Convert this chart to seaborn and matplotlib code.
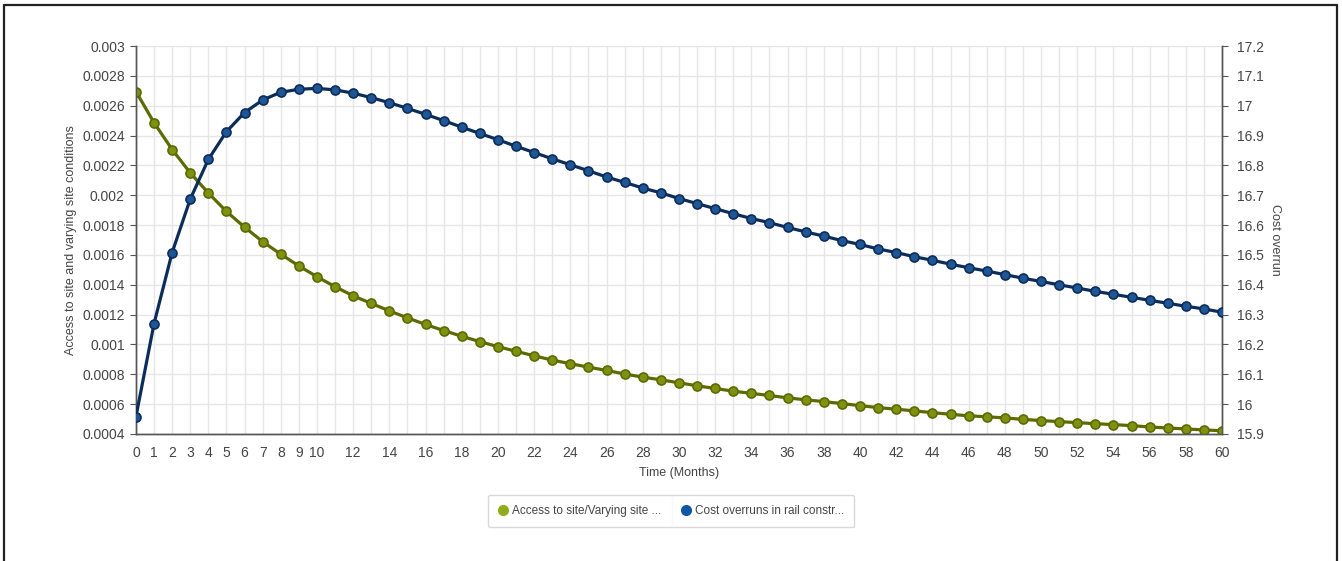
import numpy as np
import pandas as pd
import seaborn as sns
import matplotlib.pyplot as plt
from matplotlib.lines import Line2D
from matplotlib.ticker import MultipleLocator, FormatStrFormatter

months = list(range(61))

access_site = [
    0.002695, 0.002486, 0.002306, 0.002150, 0.002015, 0.001891, 0.001786, 0.001689,
    0.001605, 0.001526, 0.001454, 0.001387, 0.001326, 0.001275, 0.001225, 0.001178,
    0.001134, 0.001093, 0.001055, 0.001019, 0.000985, 0.000954, 0.000924, 0.000895,
    0.000871, 0.000848, 0.000826, 0.000802, 0.000781, 0.000763, 0.000743, 0.000723,
    0.000705, 0.000687, 0.000672, 0.000658, 0.000642, 0.000629, 0.000617, 0.000604,
    0.000590, 0.000577, 0.000566, 0.000555, 0.000543, 0.000532, 0.000522, 0.000515,
    0.000508, 0.000498, 0.000490, 0.000483, 0.000476, 0.000469, 0.000463, 0.000456,
    0.000447, 0.000440, 0.000434, 0.000427, 0.000422,
]

cost_overrun = [
    15.958, 16.270, 16.508, 16.687, 16.820, 16.913, 16.977, 17.019, 17.045, 17.055,
    17.058, 17.053, 17.042, 17.027, 17.010, 16.991, 16.971, 16.950, 16.928, 16.907,
    16.886, 16.864, 16.843, 16.822, 16.802, 16.782, 16.761, 16.743, 16.724, 16.708,
    16.689, 16.672, 16.655, 16.638, 16.622, 16.608, 16.592, 16.577, 16.563, 16.548,
    16.535, 16.520, 16.508, 16.494, 16.482, 16.469, 16.457, 16.446, 16.434, 16.422,
    16.411, 16.400, 16.389, 16.378, 16.368, 16.358, 16.348, 16.338, 16.328, 16.319,
    16.308,
]

month_labels = [str(m) if (m <= 10 or m % 2 == 0) else "" for m in months]

legend_labels = ["Access to site/Varying site ...", "Cost overruns in rail constr..."]

df = pd.DataFrame({"month": months, "access": access_site, "cost": cost_overrun})

sns.set_style("white")
plt.rcParams["font.family"] = ["Liberation Sans", "DejaVu Sans"]

green_line, green_fill, green_leg = "#5b6b00", "#7f9210", "#8fac1c"
blue_line, blue_fill, blue_leg = "#0c2d5a", "#1f5696", "#0d57a6"
txt = "#444444"
axis_col = "#555555"

fig = plt.figure(figsize=(13.42, 5.61), dpi=100)
ax = fig.add_axes([0.1013, 0.2264, 0.8093, 0.6916])
ax2 = ax.twinx()

sns.lineplot(data=df, x="month", y="access", ax=ax, color=green_line, linewidth=2.3,
             marker="o", markersize=6.5, markerfacecolor=green_fill,
             markeredgecolor=green_line, markeredgewidth=1.2, zorder=3)
sns.lineplot(data=df, x="month", y="cost", ax=ax2, color=blue_line, linewidth=2.3,
             marker="o", markersize=6.5, markerfacecolor=blue_fill,
             markeredgecolor=blue_line, markeredgewidth=1.2, zorder=3)

ax.set_xlim(0, 60)
ax.set_ylim(0.0004, 0.003)
ax2.set_ylim(15.9, 17.2)

ax.set_xticks(months)
ax.set_xticklabels(month_labels)
ax.yaxis.set_major_locator(MultipleLocator(0.0002))
ax.yaxis.set_major_formatter(FormatStrFormatter("%g"))
ax2.yaxis.set_major_locator(MultipleLocator(0.1))
ax2.yaxis.set_major_formatter(FormatStrFormatter("%g"))

ax.grid(True, color="#e6e6e6", linewidth=1.0)
ax.set_axisbelow(True)

for a in (ax, ax2):
    a.spines["top"].set_visible(False)
    for side in ("left", "right", "bottom"):
        a.spines[side].set_color(axis_col)
        a.spines[side].set_linewidth(1.0)
    a.tick_params(colors=axis_col, labelcolor=txt, labelsize=10, length=4, width=0.8)
ax.tick_params(axis="x", pad=5)
ax.tick_params(axis="y", pad=4)
ax2.tick_params(axis="y", pad=7)

ax.set_xlabel("Time (Months)", fontsize=9, color=txt, labelpad=5)
ax.set_ylabel("Access to site and varying site conditions", fontsize=9, color=txt, labelpad=4)
ax2.set_ylabel("Cost overrun", fontsize=9, color=txt, rotation=270, labelpad=12)

handles = [
    Line2D([], [], linestyle="none", marker="o", markersize=7, color=green_leg),
    Line2D([], [], linestyle="none", marker="o", markersize=7, color=blue_leg),
]
leg = fig.legend(handles, legend_labels, loc="center", bbox_to_anchor=(0.5, 0.089),
                 ncol=2, frameon=True, fontsize=8.5, handletextpad=0.3,
                 columnspacing=1.6, borderpad=0.85, handlelength=0.9, fancybox=True)
leg.get_frame().set_edgecolor("#d0d0d0")
leg.get_frame().set_linewidth(1.0)
for t in leg.get_texts():
    t.set_color(txt)

# divider between legend entries
fig.add_artist(Line2D([0.5007, 0.5007], [0.065, 0.114], transform=fig.transFigure,
                      color="#e0e0e0", linewidth=1.0))

# outer frame
frame_kw = dict(transform=fig.transFigure, color="#222222", linewidth=1.6)
fig.add_artist(Line2D([0.003, 0.003], [0.0, 0.991], **frame_kw))
fig.add_artist(Line2D([0.996, 0.996], [0.0, 0.991], **frame_kw))
fig.add_artist(Line2D([0.003, 0.996], [0.991, 0.991], **frame_kw))

fig.savefig("out.png", dpi=100)
